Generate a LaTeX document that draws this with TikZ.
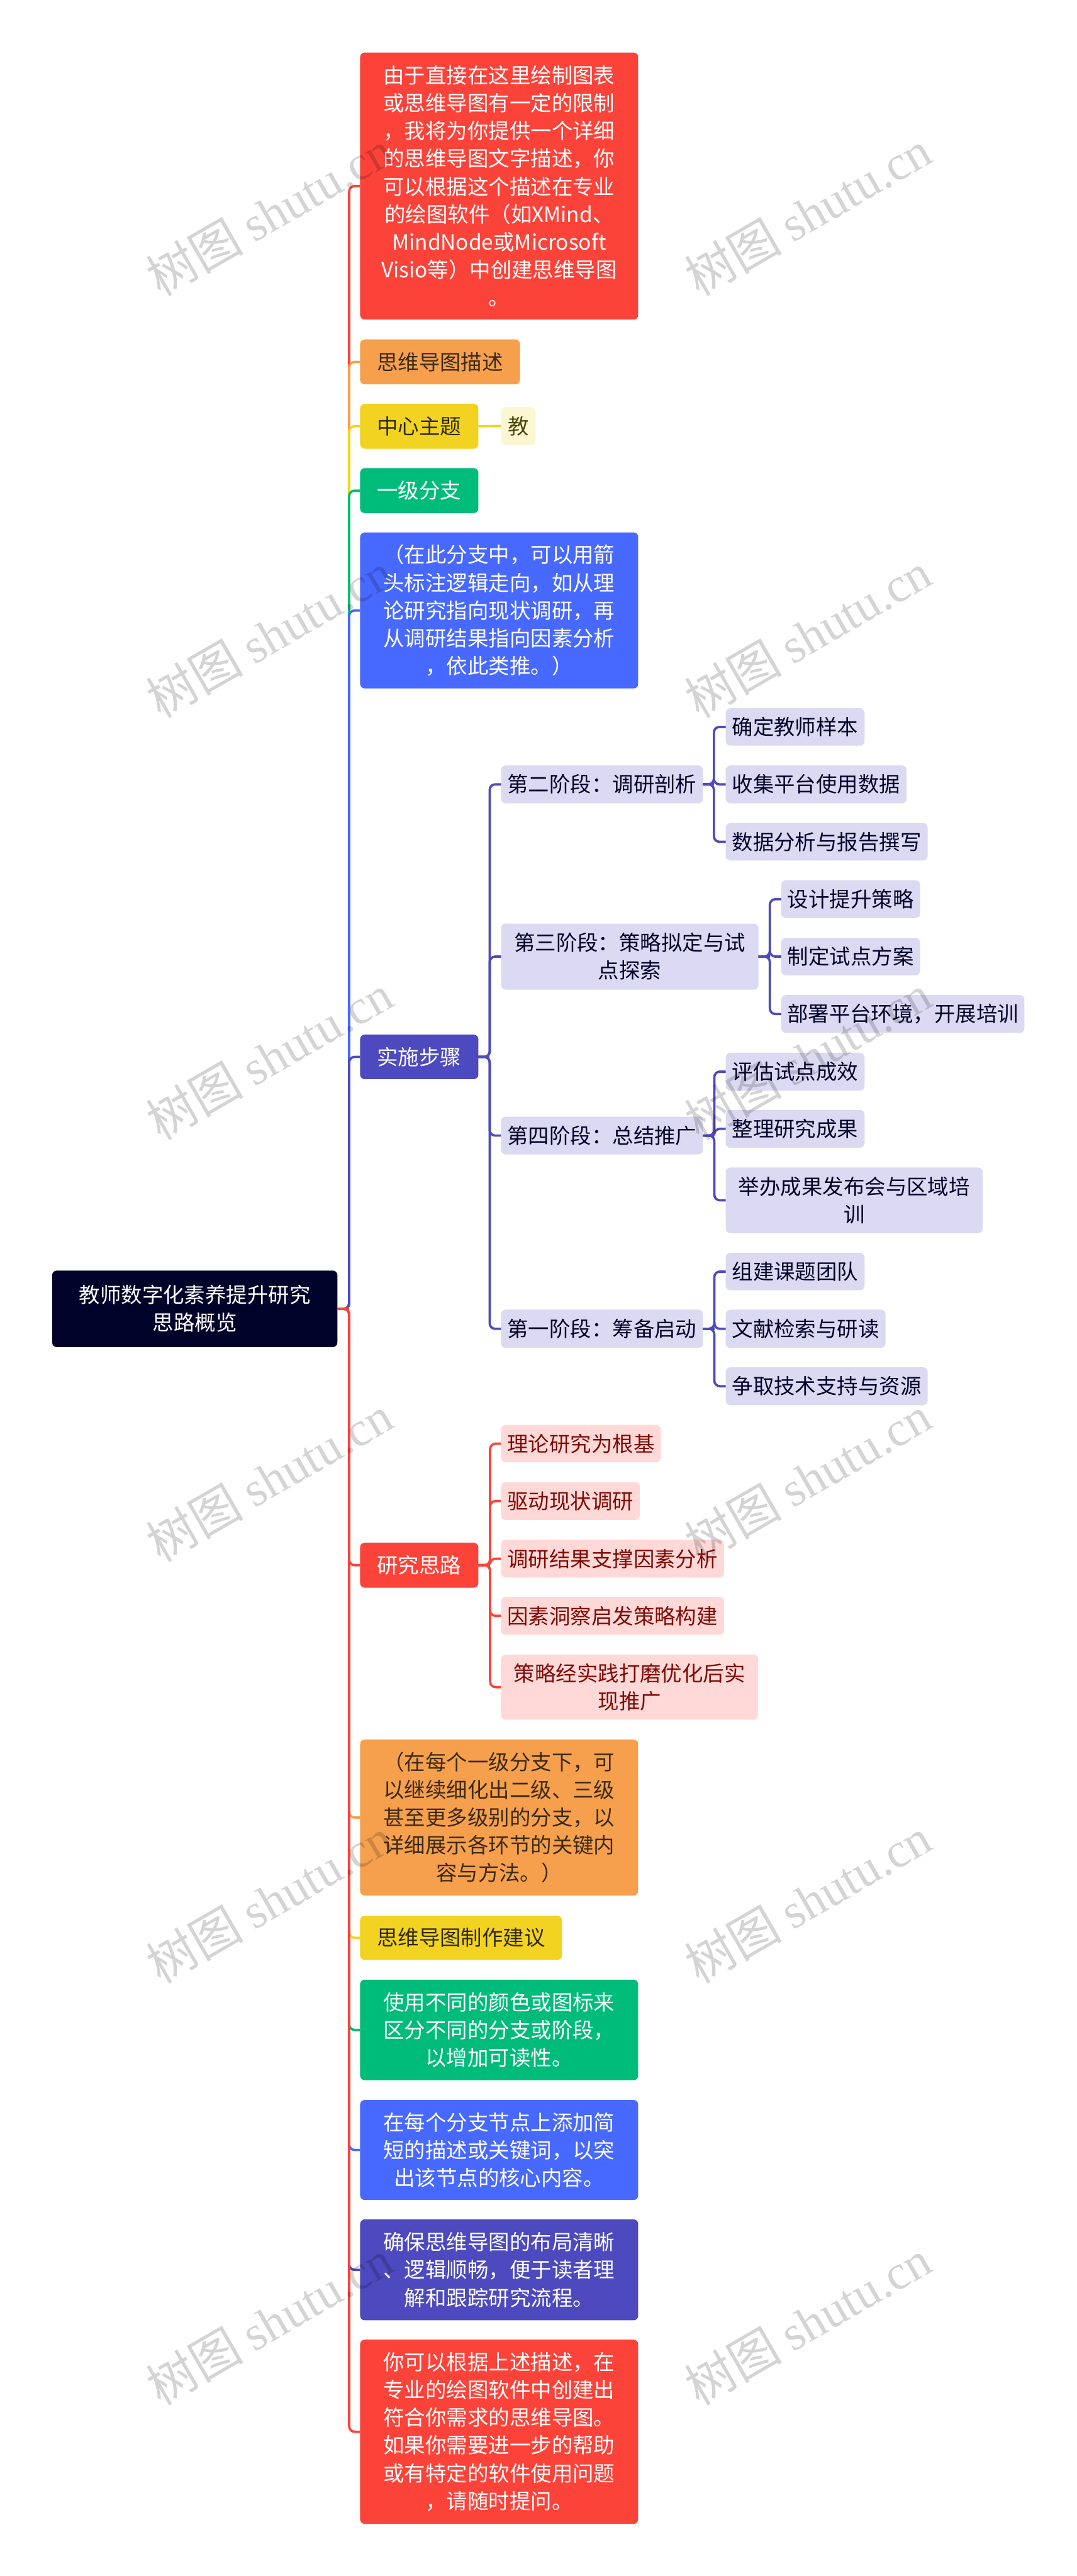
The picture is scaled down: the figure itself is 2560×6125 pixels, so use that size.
\documentclass[tikz,border=0pt]{standalone}
\usepackage{fontspec}
\setmainfont{Noto Sans CJK SC}
\newfontfamily\wmlatin{Liberation Serif}
\definecolor{cRed}{HTML}{FB433A}
\definecolor{cOrange}{HTML}{F6A04D}
\definecolor{cYellow}{HTML}{F3D321}
\definecolor{cGreen}{HTML}{00BC7B}
\definecolor{cBlue}{HTML}{4869FF}
\definecolor{cIndigo}{HTML}{4D49BE}
\definecolor{cRoot}{HTML}{000229}
\definecolor{tIndigo}{HTML}{DBDAF2}
\definecolor{tRed}{HTML}{FFD9D7}
\definecolor{tYellow}{HTML}{FCF6D3}
\definecolor{inkRed}{HTML}{7F0A05}
\definecolor{inkOrange}{HTML}{3B2A14}
\definecolor{inkYellow}{HTML}{2E2A08}
\definecolor{inkOlive}{HTML}{4E4807}
\tikzset{
  box/.style n args={4}{minimum width={(#3-#1)*1pt}, minimum height={(#4-#2)*1pt},
    at={({(#1+#3)/2},{(#2+#4)/2})}},
  nodebase/.style={rectangle, rounded corners=11pt, inner sep=0pt, outer sep=0pt, align=center,
    font=\fontsize{50}{66}\selectfont},
  rootbox/.style={nodebase, fill=cRoot, text=white},
  redbox/.style={nodebase, fill=cRed, text=white},
  orangebox/.style={nodebase, fill=cOrange, text=inkOrange},
  yellowbox/.style={nodebase, fill=cYellow, text=inkYellow},
  greenbox/.style={nodebase, fill=cGreen, text=white},
  bluebox/.style={nodebase, fill=cBlue, text=white},
  indigobox/.style={nodebase, fill=cIndigo, text=white},
  leafindigo/.style={nodebase, fill=tIndigo, text=cRoot},
  leafred/.style={nodebase, fill=tRed, text=inkRed},
  leafyellow/.style={nodebase, fill=tYellow, text=inkOlive},
  conn/.style={line width=5.5pt, rounded corners=13pt},
  wmark/.style={rotate=30, text=black, text opacity=0.17, inner sep=0pt,
    font=\fontsize{116}{116}\selectfont},
}
\newcommand{\elbow}[4]{\draw[conn, #1] (#3.east) -- (#2 |- #3.east) -- (#2 |- #4.west) -- (#4.west);}
\newcommand{\stub}[3]{\draw[conn, #1] (#3.east) -- (#2 |- #3.east);}
\newcommand{\wm}[3]{\node[wmark] (#1) at (#2,#3) {树图 {\wmlatin shutu.cn}};}
\begin{document}
\begin{tikzpicture}[x=1pt,y=-1pt]
\useasboundingbox (0,0) rectangle (2560,6125);
\fill[white] (0,0) rectangle (2560,6125);
\coordinate (trunk) at (830,0);
\coordinate (vsteps) at (1164,0);
\coordinate (vsecond) at (1697,0);
\coordinate (vthird) at (1830,0);
\coordinate (vfourth) at (1698,0);
\coordinate (vfirst) at (1698,0);
\coordinate (videa) at (1165,0);

\node[rootbox, box={124}{3021}{802}{3203}] (root) {教师数字化素养提升研究\\思路概览};

\node[redbox, box={856}{125}{1517}{760}] (a1) {由于直接在这里绘制图表\\或思维导图有一定的限制\\，我将为你提供一个详细\\的思维导图文字描述，你\\可以根据这个描述在专业\\的绘图软件（如XMind、\\MindNode或Microsoft\\Visio等）中创建思维导图\\。};
\node[orangebox, box={856}{807}{1236}{914}] (a2) {思维导图描述};
\node[yellowbox, box={856}{960}{1137}{1067}] (a3) {中心主题};
\node[leafyellow, box={1191}{968}{1273}{1058}] (a3x) {教};
\node[greenbox, box={856}{1113}{1137}{1220}] (a4) {一级分支};
\node[bluebox, box={856}{1266}{1517}{1637}] (a5) {（在此分支中，可以用箭\\头标注逻辑走向，如从理\\论研究指向现状调研，再\\从调研结果指向因素分析\\，依此类推。）};
\node[indigobox, box={856}{2460}{1137}{2566}] (a6) {实施步骤};

\node[leafindigo, box={1191}{1820}{1671}{1910}] (s2) {第二阶段：调研剖析};
\node[leafindigo, box={1725}{1684}{2055}{1773}] (s2a) {确定教师样本};
\node[leafindigo, box={1725}{1820}{2155}{1910}] (s2b) {收集平台使用数据};
\node[leafindigo, box={1725}{1957}{2205}{2046}] (s2c) {数据分析与报告撰写};
\node[leafindigo, box={1191}{2196}{1803}{2353}] (s3) {第三阶段：策略拟定与试\\点探索};
\node[leafindigo, box={1857}{2093}{2187}{2183}] (s3a) {设计提升策略};
\node[leafindigo, box={1857}{2230}{2187}{2319}] (s3b) {制定试点方案};
\node[leafindigo, box={1857}{2366}{2435}{2456}] (s3c) {部署平台环境，开展培训};
\node[leafindigo, box={1191}{2655}{1671}{2745}] (s4) {第四阶段：总结推广};
\node[leafindigo, box={1725}{2503}{2055}{2593}] (s4a) {评估试点成效};
\node[leafindigo, box={1725}{2639}{2055}{2729}] (s4b) {整理研究成果};
\node[leafindigo, box={1725}{2776}{2336}{2932}] (s4c) {举办成果发布会与区域培\\训};
\node[leafindigo, box={1191}{3114}{1671}{3205}] (s1) {第一阶段：筹备启动};
\node[leafindigo, box={1725}{2979}{2055}{3068}] (s1a) {组建课题团队};
\node[leafindigo, box={1725}{3114}{2105}{3205}] (s1b) {文献检索与研读};
\node[leafindigo, box={1725}{3251}{2205}{3341}] (s1c) {争取技术支持与资源};

\node[redbox, box={856}{3668}{1137}{3775}] (a7) {研究思路};
\node[leafred, box={1191}{3388}{1571}{3477}] (r1) {理论研究为根基};
\node[leafred, box={1191}{3524}{1521}{3614}] (r2) {驱动现状调研};
\node[leafred, box={1191}{3661}{1721}{3751}] (r3) {调研结果支撑因素分析};
\node[leafred, box={1191}{3797}{1721}{3887}] (r4) {因素洞察启发策略构建};
\node[leafred, box={1191}{3934}{1802}{4089}] (r5) {策略经实践打磨优化后实\\现推广};

\node[orangebox, box={856}{4136}{1517}{4507}] (a8) {（在每个一级分支下，可\\以继续细化出二级、三级\\甚至更多级别的分支，以\\详细展示各环节的关键内\\容与方法。）};
\node[yellowbox, box={856}{4555}{1336}{4660}] (a9) {思维导图制作建议};
\node[greenbox, box={856}{4707}{1517}{4946}] (a10) {使用不同的颜色或图标来\\区分不同的分支或阶段，\\以增加可读性。};
\node[bluebox, box={856}{4993}{1517}{5231}] (a11) {在每个分支节点上添加简\\短的描述或关键词，以突\\出该节点的核心内容。};
\node[indigobox, box={856}{5277}{1517}{5517}] (a12) {确保思维导图的布局清晰\\、逻辑顺畅，便于读者理\\解和跟踪研究流程。};
\node[redbox, box={856}{5563}{1517}{6001}] (a13) {你可以根据上述描述，在\\专业的绘图软件中创建出\\符合你需求的思维导图。\\如果你需要进一步的帮助\\或有特定的软件使用问题\\，请随时提问。};

% upper part of the trunk: nearer branches paint over farther ones
\elbow{cRed}{trunk}{root}{a1}
\elbow{cOrange}{trunk}{root}{a2}
\elbow{cYellow}{trunk}{root}{a3}
\elbow{cGreen}{trunk}{root}{a4}
\elbow{cBlue}{trunk}{root}{a5}
\elbow{cIndigo}{trunk}{root}{a6}
% lower part of the trunk: the last branch paints over the earlier ones
\elbow{cIndigo}{trunk}{root}{a12}
\elbow{cBlue}{trunk}{root}{a11}
\elbow{cGreen}{trunk}{root}{a10}
\elbow{cYellow}{trunk}{root}{a9}
\elbow{cOrange}{trunk}{root}{a8}
\elbow{cRed}{trunk}{root}{a7}
\elbow{cRed}{trunk}{root}{a13}
\stub{cRed}{trunk}{root}

\draw[conn, cYellow] (a3.east) -- (a3x.west);

\elbow{cIndigo}{vsteps}{a6}{s2}
\elbow{cIndigo}{vsteps}{a6}{s3}
\elbow{cIndigo}{vsteps}{a6}{s4}
\elbow{cIndigo}{vsteps}{a6}{s1}
\stub{cIndigo}{vsteps}{a6}
\elbow{cIndigo}{vsecond}{s2}{s2a}
\elbow{cIndigo}{vsecond}{s2}{s2b}
\elbow{cIndigo}{vsecond}{s2}{s2c}
\stub{cIndigo}{vsecond}{s2}
\elbow{cIndigo}{vthird}{s3}{s3a}
\elbow{cIndigo}{vthird}{s3}{s3b}
\elbow{cIndigo}{vthird}{s3}{s3c}
\stub{cIndigo}{vthird}{s3}
\elbow{cIndigo}{vfourth}{s4}{s4a}
\elbow{cIndigo}{vfourth}{s4}{s4b}
\elbow{cIndigo}{vfourth}{s4}{s4c}
\stub{cIndigo}{vfourth}{s4}
\elbow{cIndigo}{vfirst}{s1}{s1a}
\elbow{cIndigo}{vfirst}{s1}{s1b}
\elbow{cIndigo}{vfirst}{s1}{s1c}
\stub{cIndigo}{vfirst}{s1}

\elbow{cRed}{videa}{a7}{r1}
\elbow{cRed}{videa}{a7}{r2}
\elbow{cRed}{videa}{a7}{r3}
\elbow{cRed}{videa}{a7}{r4}
\elbow{cRed}{videa}{a7}{r5}
\stub{cRed}{videa}{a7}

% watermarks
\wm{wa}{640}{507}   \wm{wb}{1920}{507}
\wm{wc}{640}{1510}  \wm{wd}{1920}{1510}
\wm{we}{640}{2513}  \wm{wf}{1920}{2513}
\wm{wg}{640}{3516}  \wm{wh}{1920}{3516}
\wm{wi}{640}{4519}  \wm{wj}{1920}{4519}
\wm{wk}{640}{5522}  \wm{wl}{1920}{5522}
\end{tikzpicture}
\end{document}
